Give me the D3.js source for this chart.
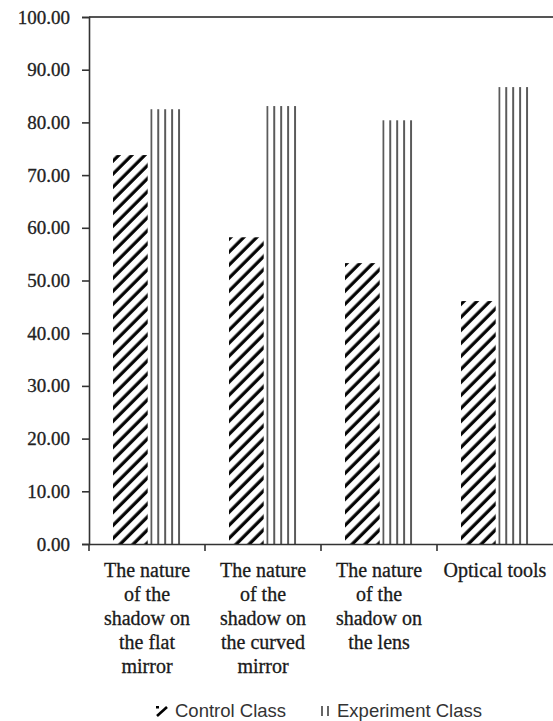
<!DOCTYPE html>
<html>
<head>
<meta charset="utf-8">
<script src="https://cdn.jsdelivr.net/npm/d3@7"></script>
<style>
  body { margin: 0; background: #fff; }
  svg { display: block; }
</style>
</head>
<body>
<svg id="chart"></svg>
<script>
// values
const categories = ['flat', 'curved', 'lens', 'optical'];
const categoryLines = [
  ['The nature', 'of the', 'shadow on', 'the flat', 'mirror'],
  ['The nature', 'of the', 'shadow on', 'the curved', 'mirror'],
  ['The nature', 'of the', 'shadow on', 'the lens'],
  ['Optical tools']
];
const seriesNames = ['Control Class', 'Experiment Class'];
const controlValues = [73.8, 58.2, 53.3, 46.1];
const experimentValues = [82.5, 83.1, 80.4, 86.7];
const yTicks = [0, 10, 20, 30, 40, 50, 60, 70, 80, 90, 100];

const W = 553, H = 721;
const plotLeft = 89, plotRight = 553, plotTop = 17, plotBottom = 544;

const svg = d3.select('#chart').attr('width', W).attr('height', H);

const defs = svg.append('defs');
// diagonal hatch for control
const hatch = defs.append('pattern')
  .attr('id', 'hatch')
  .attr('patternUnits', 'userSpaceOnUse')
  .attr('width', 9.2).attr('height', 9.2)
  .attr('patternTransform', 'rotate(45)');
hatch.append('line')
  .attr('x1', 2).attr('y1', 0).attr('x2', 2).attr('y2', 9.2)
  .attr('stroke', '#000').attr('stroke-width', 3.2);

// vertical lines for experiment, 5 per bar
const vlines = defs.append('pattern')
  .attr('id', 'vlines')
  .attr('patternUnits', 'objectBoundingBox')
  .attr('width', 0.2).attr('height', 1);
vlines.append('line')
  .attr('x1', 1).attr('y1', 0).attr('x2', 1).attr('y2', 1000)
  .attr('stroke', '#333').attr('stroke-width', 1.6);

const x0 = d3.scaleBand().domain(categories).range([plotLeft, plotRight]);
const x1 = d3.scaleBand().domain(seriesNames).range([24, 96]).paddingInner(0.07);
const y = d3.scaleLinear().domain([0, 100]).range([plotBottom, plotTop]);

const fills = { 'Control Class': 'url(#hatch)', 'Experiment Class': 'url(#vlines)' };
const serif = '"Liberation Serif", "Times New Roman", serif';
const sans = '"Liberation Sans", Arial, sans-serif';

// bars
const groups = svg.append('g').selectAll('g')
  .data(categories)
  .join('g')
  .attr('transform', d => `translate(${x0(d)},0)`);

groups.selectAll('rect')
  .data((d, i) => [
    { s: seriesNames[0], v: controlValues[i] },
    { s: seriesNames[1], v: experimentValues[i] }
  ])
  .join('rect')
  .attr('x', d => x1(d.s))
  .attr('y', d => y(d.v))
  .attr('width', x1.bandwidth())
  .attr('height', d => y(0) - y(d.v))
  .attr('fill', d => fills[d.s]);

// top border
svg.append('line')
  .attr('x1', plotLeft).attr('x2', plotRight)
  .attr('y1', plotTop).attr('y2', plotTop)
  .attr('stroke', '#555').attr('stroke-width', 2);

// y axis
const yAxis = svg.append('g')
  .attr('transform', `translate(${plotLeft},0)`)
  .call(d3.axisLeft(y).tickValues(yTicks).tickFormat(d3.format('.2f')).tickSize(7).tickPadding(12));
yAxis.select('.domain').attr('stroke', '#333').attr('stroke-width', 1.6);
yAxis.selectAll('.tick line').attr('stroke', '#333').attr('stroke-width', 1.6);
yAxis.selectAll('.tick text')
  .attr('font-family', serif)
  .attr('font-size', 19)
  .attr('fill', '#222')
  .attr('stroke', '#222').attr('stroke-width', 0.3);

// x axis with ticks on category boundaries
const xAxis = svg.append('g')
  .attr('transform', `translate(0,${plotBottom})`)
  .call(d3.axisBottom(x0).tickSize(0).tickFormat(''));
xAxis.select('.domain').attr('stroke', '#333').attr('stroke-width', 1.6);
xAxis.selectAll('.bound')
  .data(categories)
  .join('line')
  .attr('class', 'bound')
  .attr('x1', d => x0(d)).attr('x2', d => x0(d))
  .attr('y1', 0).attr('y2', 7)
  .attr('stroke', '#333').attr('stroke-width', 1.6);

// category labels
const labels = svg.append('g').selectAll('text')
  .data(categories)
  .join('text')
  .attr('x', d => x0(d) + x0.bandwidth() / 2)
  .attr('y', 577)
  .attr('text-anchor', 'middle')
  .attr('font-family', serif)
  .attr('font-size', 20)
  .attr('fill', '#1a1a1a')
  .attr('stroke', '#1a1a1a').attr('stroke-width', 0.3);
labels.selectAll('tspan')
  .data((d, i) => categoryLines[i])
  .join('tspan')
  .attr('x', function() { return this.parentNode.getAttribute('x'); })
  .attr('dy', (d, i) => i === 0 ? 0 : 24)
  .text(d => d);

// legend
const legend = svg.append('g').attr('transform', 'translate(0,717)');
legend.append('line')
  .attr('x1', 157).attr('y1', -1).attr('x2', 167).attr('y2', -10)
  .attr('stroke', '#000').attr('stroke-width', 2.6);
legend.append('rect').attr('x', 156).attr('y', -11).attr('width', 3).attr('height', 2.5).attr('fill', '#000');
legend.append('text')
  .attr('x', 175).attr('y', 0)
  .attr('font-family', sans)
  .attr('font-size', 18.5).attr('fill', '#333')
  .text(seriesNames[0]);
legend.selectAll('.vl')
  .data([322, 328])
  .join('line')
  .attr('class', 'vl')
  .attr('x1', d => d).attr('x2', d => d)
  .attr('y1', -11).attr('y2', -1)
  .attr('stroke', '#333').attr('stroke-width', 1.5);
legend.append('text')
  .attr('x', 337).attr('y', 0)
  .attr('font-family', sans)
  .attr('font-size', 18.5).attr('fill', '#333')
  .text(seriesNames[1]);
</script>
</body>
</html>
